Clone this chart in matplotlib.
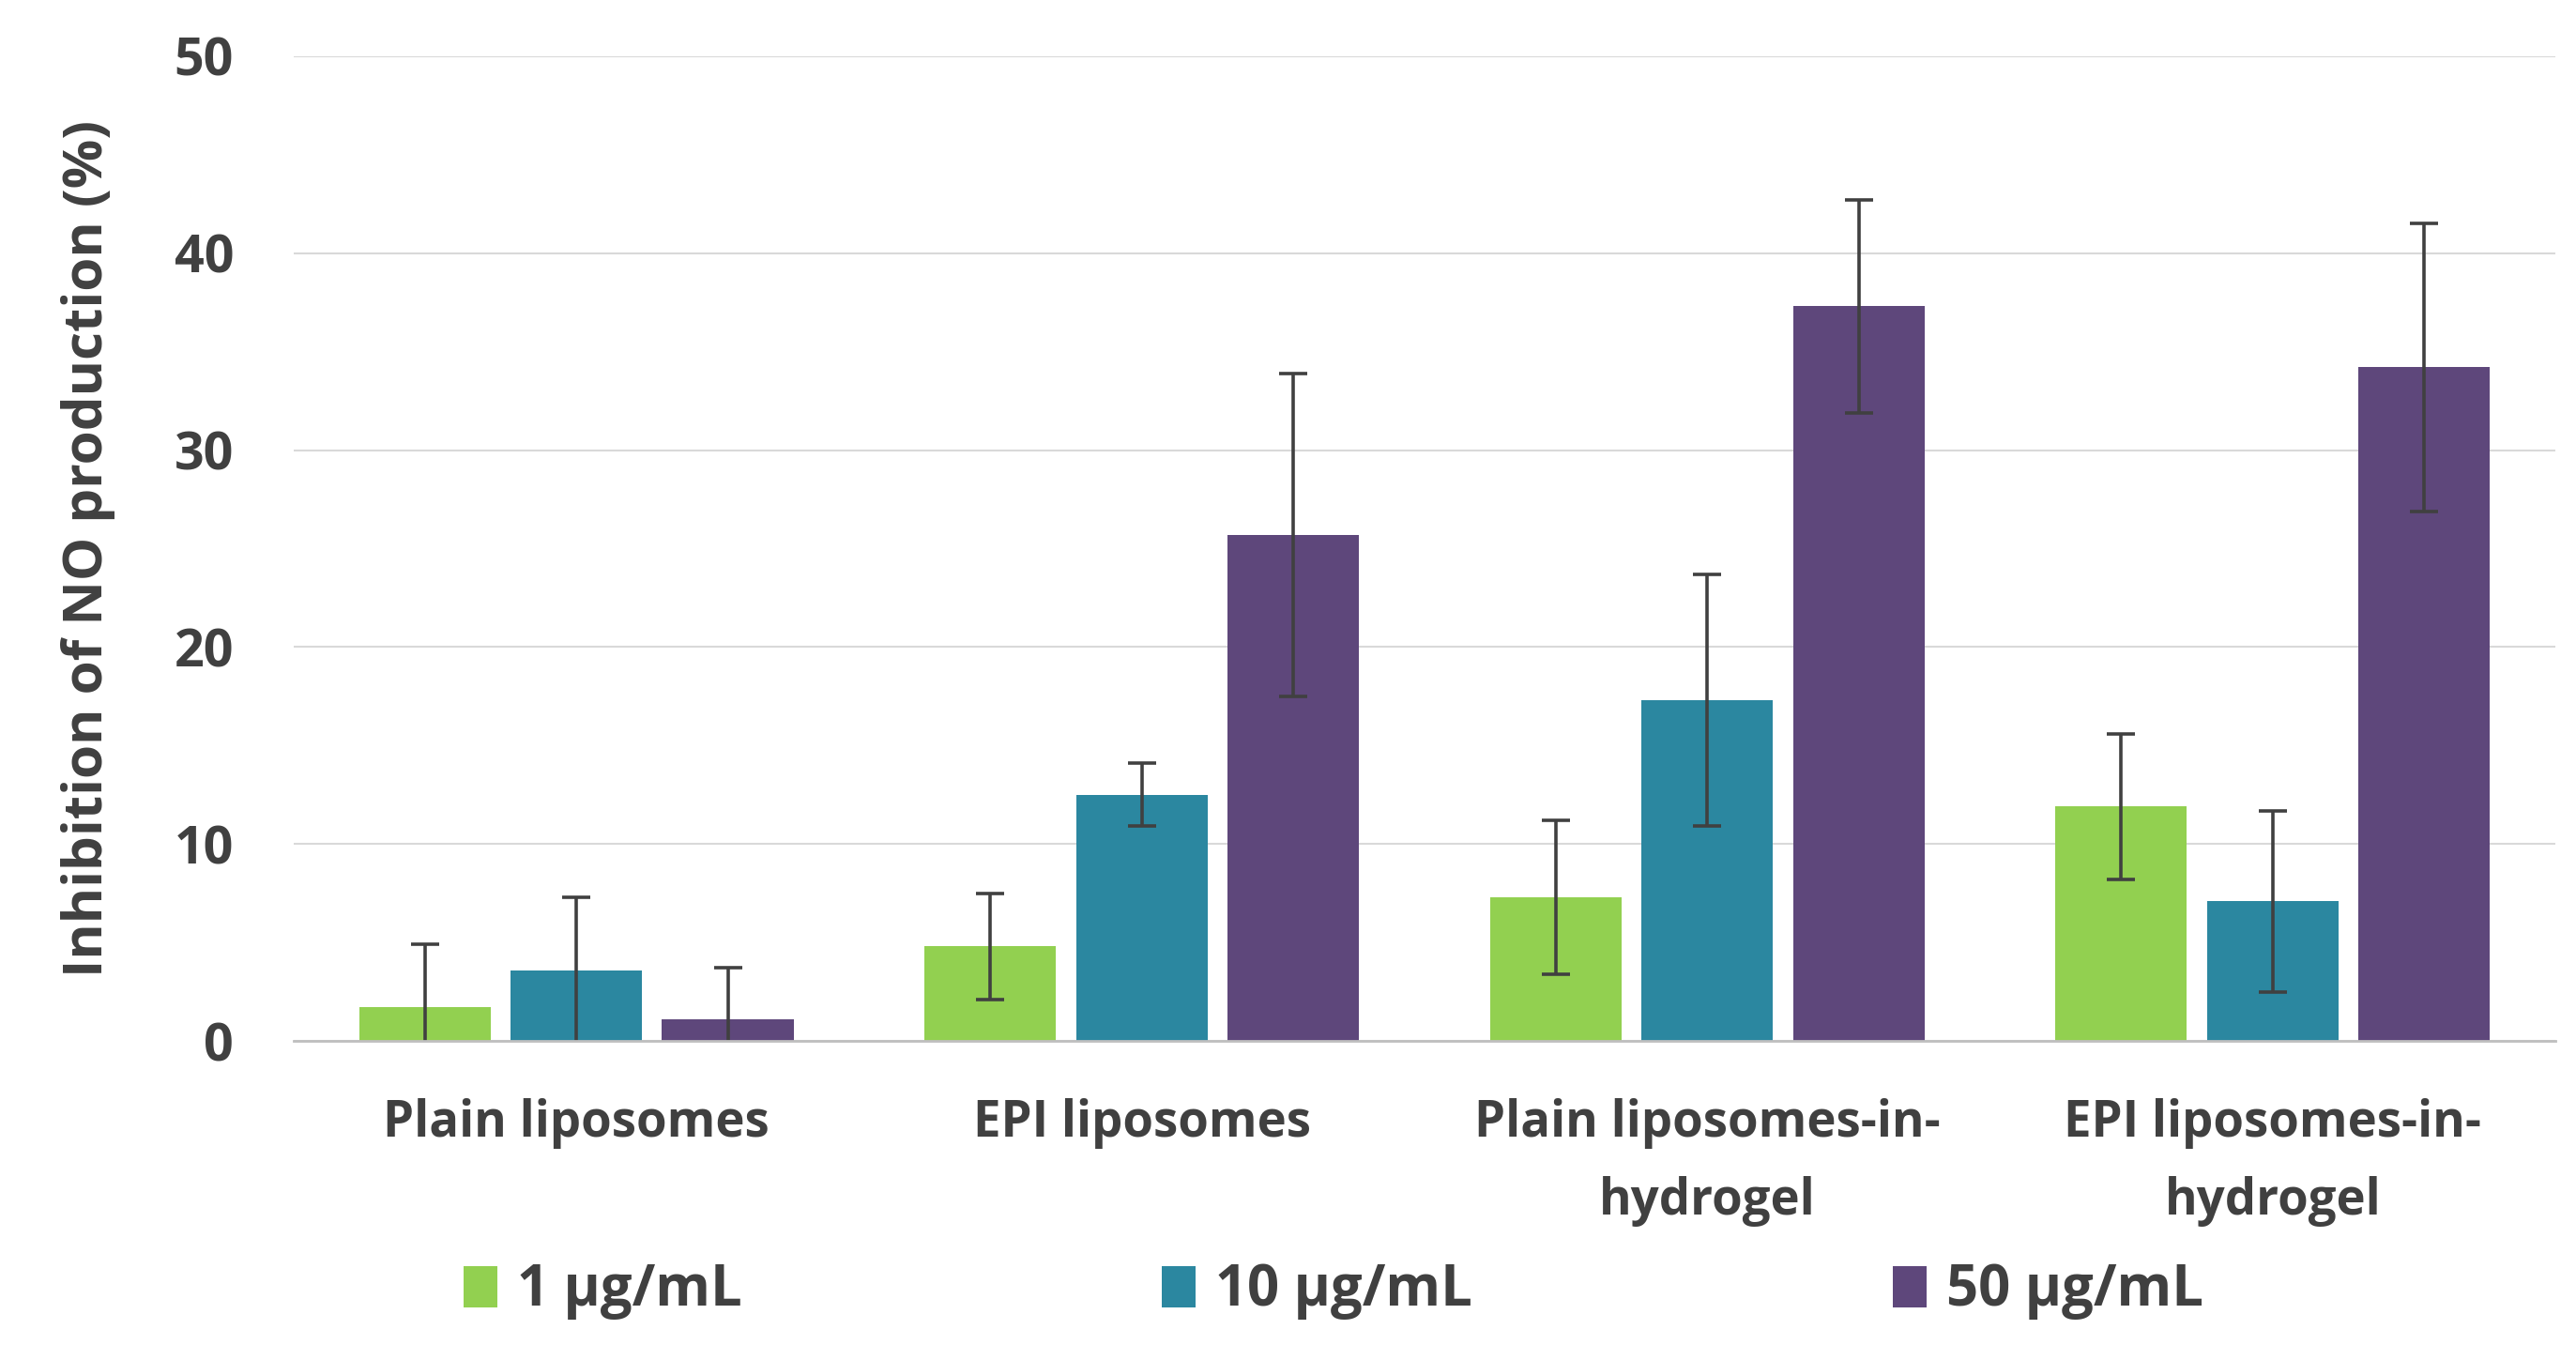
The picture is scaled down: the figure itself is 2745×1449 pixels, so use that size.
import matplotlib
matplotlib.use("Agg")
import matplotlib.pyplot as plt
import numpy as np

categories = ["Plain liposomes", "EPI liposomes", "Plain liposomes-in-\nhydrogel", "EPI liposomes-in-\nhydrogel"]
series_labels = ["1 µg/mL", "10 µg/mL", "50 µg/mL"]
values_1 = [1.7, 4.8, 7.3, 11.9]
values_10 = [3.6, 12.5, 17.3, 7.1]
values_50 = [1.1, 25.7, 37.3, 34.2]
err_1 = [3.2, 2.7, 3.9, 3.7]
err_10 = [3.7, 1.6, 6.4, 4.6]
err_50 = [2.6, 8.2, 5.4, 7.3]
yticks = [0, 10, 20, 30, 40, 50]

colors = ["#92D050", "#2B87A0", "#5E477B"]
txt = "#404040"

plt.rcParams['font.family'] = ['Open Sans', 'DejaVu Sans']
plt.rcParams['font.weight'] = 'bold'

fig = plt.figure(figsize=(27.45, 14.49), dpi=100)
ax = fig.add_axes([0.114, 0.2346, 0.878, 0.724])

x = np.arange(len(categories))
width = 0.233
offsets = [-0.268, 0.0, 0.268]
vals = [values_1, values_10, values_50]
errs = [err_1, err_10, err_50]
for i in range(3):
    ax.bar(x + offsets[i], vals[i], width, color=colors[i], label=series_labels[i], zorder=3)
    ax.errorbar(x + offsets[i], vals[i], yerr=errs[i], fmt='none', ecolor='#404040',
                elinewidth=2.6, capsize=11, capthick=2.6, zorder=4)

ax.set_xlim(-0.5, 3.5)
ax.set_ylim(0, 50)
ax.set_yticks(yticks)
ax.set_xticks(x)
ax.set_xticklabels(categories, linespacing=1.7, fontsize=38)
ax.yaxis.grid(True, color="#d9d9d9", linewidth=1.5, zorder=0)
ax.set_axisbelow(True)
for s in ['top', 'right', 'left']:
    ax.spines[s].set_visible(False)
ax.spines['bottom'].set_color('#bfbfbf')
ax.spines['bottom'].set_linewidth(2)
ax.spines['bottom'].set_zorder(5)
ax.tick_params(axis='both', length=0, labelcolor=txt)
ax.tick_params(axis='y', pad=46, labelsize=40)
ax.tick_params(axis='x', pad=44)
ax.set_ylabel("Inhibition of NO production (%)", fontsize=42, color=txt, labelpad=45, fontweight='bold')

fig.legend(loc='center', bbox_to_anchor=(0.5176, 0.0504), ncol=3, frameon=False,
           fontsize=43, labelcolor=txt, handlelength=0.6, handleheight=0.75,
           handletextpad=0.35, columnspacing=7.5)

fig.savefig("out.png", dpi=100, facecolor='white')
